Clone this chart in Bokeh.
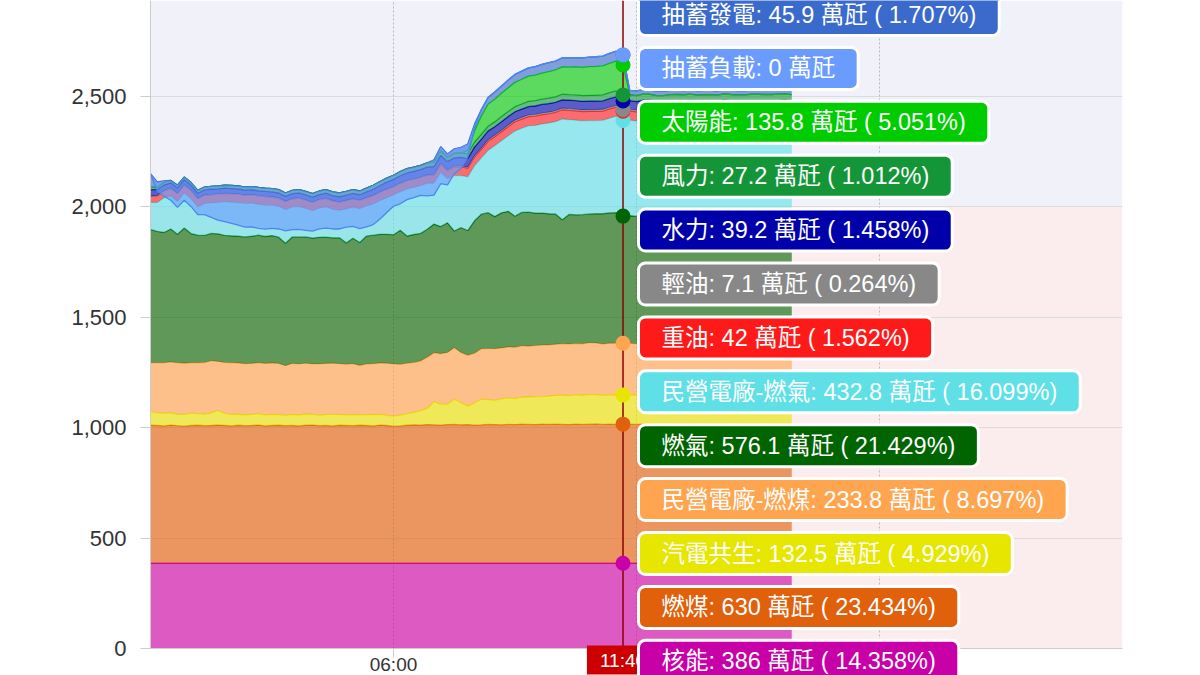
from bokeh.plotting import figure
from bokeh.models import Range1d, FixedTicker, NumeralTickFormatter, BoxAnnotation, Label, Span
from bokeh.embed import file_html
from bokeh.resources import INLINE

# ---------------- data (萬瓩), 10-minute steps from 00:00 ----------------
times = [f"{h:02d}:{m:02d}" for h in range(16) for m in range(0, 60, 10)]
CROSS = 70  # 11:40

nuclear = [386, 386, 386, 386, 386, 386, 386, 386, 386, 386, 386, 386,
           386, 386, 386, 386, 386, 386, 386, 386, 386, 386, 386, 386,
           386, 386, 386, 386, 386, 386, 386, 386, 386, 386, 386, 386,
           386, 386, 386, 386, 386, 386, 386, 386, 386, 386, 386, 386,
           386, 386, 386, 386, 386, 386, 386, 386, 386, 386, 386, 386,
           386, 386, 386, 386, 386, 386, 386, 386, 386, 386, 386, 386,
           386, 386, 386, 386, 386, 386, 386, 386, 386, 386, 386, 386,
           386, 386, 386, 386, 386, 386, 386, 386, 386, 386, 386, 386]
coal = [625, 624, 622, 626, 623, 621, 624, 625, 623, 624,
        626, 624, 622, 625, 623, 624, 626, 622, 624, 625,
        623, 624, 622, 625, 626, 623, 624, 622, 625, 624,
        623, 625, 624, 622, 626, 624, 621, 622, 625, 627,
        626, 628, 627, 626, 628, 629, 627, 628, 626, 627,
        629, 628, 627, 629, 628, 630, 629, 628, 630, 629,
        630, 629, 628, 630, 629, 630, 631, 629, 630, 629,
        630,
        630, 629, 630, 631, 630, 629, 630, 630, 631, 630, 629, 630, 630,
        631, 630, 629, 630, 630, 631, 630, 629, 630, 630, 631, 630]
cogen = [62, 58, 57, 55, 52, 53, 56, 53, 52, 57,
         66, 55, 52, 50, 48, 50, 52, 49, 50, 48,
         47, 50, 49, 51, 48, 47, 50, 52, 49, 48,
         50, 47, 49, 51, 48, 46, 45, 48, 53, 56,
         65, 73, 105, 95, 92, 115, 100, 84, 100, 116,
         112, 110, 118, 120, 118, 122, 124, 126, 125, 128,
         130, 132, 131, 133, 132, 134, 133, 131, 133, 132,
         132.5,
         133, 132, 134, 133, 132, 131, 133, 134, 132, 133, 132, 131, 133,
         132, 134, 133, 132, 131, 133, 132, 134, 133, 132, 133, 132]
ipp_coal = [221, 226, 229, 231, 233, 232, 228, 230, 234, 236,
            222, 230, 234, 232, 233, 231, 230, 234, 233, 232,
            225, 231, 232, 230, 229, 233, 231, 232, 230, 229,
            231, 224, 229, 231, 233, 236, 237, 231, 228, 226,
            225, 232, 221, 228, 235, 232, 228, 230, 225, 228,
            232, 234, 230, 231, 232, 233, 230, 232, 233, 231,
            232, 233, 234, 232, 233, 235, 234, 233, 234, 235,
            233.8,
            234, 233, 235, 234, 233, 234, 235, 234, 233, 234, 235, 234, 233,
            234, 235, 234, 233, 234, 235, 234, 233, 234, 235, 234, 233]
gas = [604, 595, 590, 602, 582, 612, 585, 578, 576, 577,
       578, 576, 575, 574, 574, 576, 578, 575, 577, 572,
       554, 573, 575, 572, 570, 573, 572, 568, 570, 550,
       568, 557, 580, 582, 583, 584, 585, 607, 576, 580,
       578, 580, 583, 576, 587, 529, 565, 565, 600, 610,
       615, 598, 612, 614, 594, 604, 607, 600, 598, 595,
       590, 562, 587, 583, 585, 583, 585, 590, 590, 592,
       576.1,
       577, 578, 576, 579, 577, 575, 578, 577, 576, 578, 577, 579, 576,
       577, 578, 576, 577, 578, 576, 577, 579, 577, 576, 578, 577]
ipp_gas = [122, 131, 157, 149, 149, 159, 158, 128, 144, 138,
           142, 152, 152, 152, 151, 150, 139, 142, 137, 139,
           152, 135, 137, 129, 124, 132, 137, 129, 124, 154,
           140, 153, 136, 141, 152, 166, 180, 175, 213, 213,
           216, 208, 185, 246, 199, 251, 236, 243, 249, 254,
           282, 321, 327, 342, 386, 381, 391, 397, 404, 411,
           418, 456, 429, 429, 425, 423, 422, 423, 429, 436,
           432.8,
           433, 431, 434, 432, 430, 433, 431, 432, 434, 433, 431, 432, 433,
           430, 432, 434, 433, 431, 432, 433, 431, 432, 434, 433, 432]
heavy_oil = [28, 30, 32, 35, 36, 36, 37, 38, 38, 38,
             38, 38, 39, 39, 38, 38, 39, 39, 38, 38,
             38, 38, 39, 38, 38, 39, 39, 38, 38, 38,
             38, 38, 38, 39, 39, 38, 38, 38, 38, 38,
             38, 38, 38, 38, 38, 39, 40, 40, 40, 40,
             41, 41, 41, 42, 42, 42, 42, 42, 42, 42,
             42, 42, 42, 42, 42, 42, 42, 42, 42, 42,
             42,
             42, 42, 41, 42, 42, 43, 42, 42, 41, 42, 42, 42, 43,
             42, 42, 41, 42, 42, 42, 43, 42, 42, 41, 42, 42]
light_oil = [0, 0, 0, 0, 0, 0, 0, 0, 0, 0,
             0, 0, 0, 0, 0, 0, 0, 0, 0, 0,
             0, 0, 0, 0, 0, 0, 0, 0, 0, 0,
             0, 0, 0, 0, 0, 0, 0, 0, 0, 0,
             0, 0, 2, 2, 3, 3, 4, 4, 5, 5,
             6, 6, 6, 7, 7, 7, 7, 7, 7, 7,
             7.1, 7.1, 7.1, 7.1, 7.1, 7.1, 7.1, 7.1, 7.1, 7.1,
             7.1,
             7.1, 7.1, 7, 7.1, 7.1, 7, 7.1, 7.1, 7, 7.1, 7.1, 7, 7.1,
             7.1, 7, 7.1, 7.1, 7, 7.1, 7.1, 7, 7.1, 7.1, 7, 7.1]
hydro = [30, 28, 26, 25, 25, 24, 24, 24, 24, 24,
         24, 24, 23, 23, 23, 23, 23, 23, 23, 23,
         23, 23, 23, 23, 23, 23, 23, 24, 24, 24,
         25, 25, 26, 28, 30, 32, 33, 34, 35, 35,
         35, 35, 36, 36, 37, 38, 38, 39, 40, 40,
         40, 39, 39, 38, 38, 38, 38, 39, 39, 39,
         38, 38, 39, 39, 39, 39, 39, 39, 39, 39,
         39.2,
         39, 39, 40, 39, 39, 38, 39, 39, 40, 39, 39, 39, 38,
         39, 39, 40, 39, 39, 39, 38, 39, 39, 40, 39, 39]
wind = [10, 10, 11, 11, 12, 12, 12, 13, 13, 13,
        13, 13, 14, 14, 14, 14, 15, 15, 15, 15,
        15, 15, 15, 16, 16, 16, 16, 17, 17, 17,
        17, 17, 17, 18, 18, 18, 18, 19, 19, 19,
        19, 20, 20, 20, 20, 21, 21, 21, 22, 22,
        22, 22, 23, 23, 23, 23, 24, 24, 24, 25,
        25, 25, 25, 26, 26, 26, 26, 27, 27, 27,
        27.2,
        27, 27, 28, 27, 28, 28, 27, 28, 28, 29, 28, 28, 29,
        28, 29, 29, 28, 29, 29, 30, 29, 29, 30, 29, 30]
solar = [0, 0, 0, 0, 0, 0, 0, 0, 0, 0,
         0, 0, 0, 0, 0, 0, 0, 0, 0, 0,
         0, 0, 0, 0, 0, 0, 0, 0, 0, 0,
         0, 0, 0, 0, 0, 0, 0, 0, 0, 0,
         0, 0, 0, 0, 0, 0, 0, 15, 50, 82,
         100, 103, 106, 108, 110, 112, 114, 116, 118, 120,
         122, 124, 125, 127, 128, 130, 131, 132, 133, 135,
         135.8,
         0, 0, 0, 0, 0, 0, 0, 0, 0, 0, 0, 0, 0,
         0, 0, 0, 0, 0, 0, 0, 0, 0, 0, 0, 0]
pumped_gen = [62, 25, 8, 0, 0, 0, 0, 0, 0, 0,
              0, 0, 0, 0, 0, 0, 0, 0, 0, 0,
              0, 0, 0, 0, 0, 0, 0, 0, 0, 0,
              0, 0, 0, 0, 0, 0, 0, 0, 0, 0,
              0, 0, 10, 20, 15, 20, 25, 30, 32, 30,
              30, 32, 33, 35, 36, 37, 38, 38, 39, 40,
              40, 41, 42, 42, 43, 43, 44, 44, 45, 45,
              45.9,
              20, 21, 20, 19, 20, 21, 20, 20, 19, 20, 21, 20, 20,
              19, 20, 21, 20, 20, 19, 20, 21, 20, 20, 19, 20]
pump_load = [0, -40, -70, -90, -100, -105, -108, -110, -125, -140,
             -155, -165, -172, -178, -182, -183, -185, -186, -180, -178,
             -172, -178, -180, -176, -170, -172, -174, -168, -163, -162,
             -166, -170, -175, -178, -170, -155, -140, -146, -140, -138,
             -136, -150, -160, -168, -140, -113, -95, -60, -20, 0,
             0, 0, 0, 0, 0, 0, 0, 0, 0, 0,
             0, 0, 0, 0, 0, 0, 0, 0, 0, 0,
             0,
             0, 0, 0, 0, 0, 0, 0, 0, 0, 0, 0, 0, 0,
             0, 0, 0, 0, 0, 0, 0, 0, 0, 0, 0, 0]

# stacking order, bottom -> top
stack_names = ["核能", "燃煤", "汽電共生", "民營電廠-燃煤", "燃氣", "民營電廠-燃氣",
               "重油", "輕油", "水力", "風力", "太陽能", "抽蓄發電"]
stack_values = [nuclear, coal, cogen, ipp_coal, gas, ipp_gas,
                heavy_oil, light_oil, hydro, wind, solar, pumped_gen]
colors = {"核能": "#c800a8", "燃煤": "#e0600c", "汽電共生": "#e6e600",
          "民營電廠-燃煤": "#ffa54f", "燃氣": "#006400", "民營電廠-燃氣": "#5ee0e6",
          "重油": "#ff1a1a", "輕油": "#888888", "水力": "#0000aa", "風力": "#149638",
          "太陽能": "#00cc00", "抽蓄發電": "#3a6acb", "抽蓄負載": "#6a9cff"}
tip_order = ["抽蓄發電", "抽蓄負載", "太陽能", "風力", "水力", "輕油", "重油",
             "民營電廠-燃氣", "燃氣", "民營電廠-燃煤", "汽電共生", "燃煤", "核能"]
y_ticks = [0, 500, 1000, 1500, 2000, 2500]
x_ticks = ["06:00", "12:00", "18:00"]
band_split = 2000

# ---------------- layout helpers (pixels of the 1200x675 picture) ----------------
PX_PER_H = 40.5
FRAME_LEFT, AXIS_Y, FRAME_TOP, FRAME_BOTTOM = 150, 648, 0, 675
PX_PER_UNIT = 552 / 2500
TEXT_FONT = "Liberation Sans, 'Noto Sans CJK TC', sans-serif"


def hx(px):
    return (px - FRAME_LEFT) / PX_PER_H


def vy(py):
    return (AXIS_Y - py) / PX_PER_UNIT


def to_h(t):
    return int(t[:2]) + int(t[3:]) / 60


hours = [to_h(t) for t in times]
Y_TOP = vy(FRAME_TOP)
Y_BOTTOM = vy(FRAME_BOTTOM)

p = figure(frame_width=972, frame_height=675,
           x_range=Range1d(0, 24), y_range=Range1d(Y_BOTTOM, Y_TOP),
           output_backend="svg", toolbar_location=None,
           min_border_left=150, min_border_right=78,
           min_border_top=0, min_border_bottom=0,
           outline_line_color=None, background_fill_color="white")

p.add_layout(BoxAnnotation(bottom=band_split, fill_color="#f1f1fa", fill_alpha=1,
                           line_color=None, level="image"))
p.add_layout(BoxAnnotation(bottom=0, top=band_split, fill_color="#fbeded", fill_alpha=1,
                           line_color=None, level="image"))

# axes & grids
p.yaxis.ticker = FixedTicker(ticks=y_ticks)
p.yaxis.bounds = (0, Y_TOP)
p.yaxis.formatter = NumeralTickFormatter(format="0,0")
p.yaxis.major_label_text_font = "Liberation Sans"
p.yaxis.major_label_text_font_size = "22px"
p.yaxis.major_label_text_color = "#333333"
p.yaxis.axis_line_color = "#cccccc"
p.yaxis.major_tick_line_color = "#cccccc"
p.yaxis.major_tick_out = 10
p.yaxis.major_tick_in = 0
p.yaxis.minor_tick_line_color = None
p.yaxis.major_label_standoff = 14
p.xaxis.visible = False

p.ygrid.ticker = FixedTicker(ticks=y_ticks)
p.ygrid.grid_line_color = "#dcdcdc"
p.xgrid.visible = False

xt = [to_h(t) for t in x_ticks]
# dotted vertical grid lines and axis tick marks
p.segment(x0=xt, y0=[0] * len(xt), x1=xt, y1=[Y_TOP] * len(xt),
          line_color="#bbbbbb", line_width=1, line_dash="2 2")
p.segment(x0=xt, y0=[0] * len(xt), x1=xt, y1=[vy(657)] * len(xt),
          line_color="#cccccc", line_width=1)

# stacked areas
lower = [0.0] * len(hours)
tops = {}
for name, vals in zip(stack_names, stack_values):
    upper = [a + b for a, b in zip(lower, vals)]
    p.varea(x=hours, y1=lower, y2=upper, fill_color=colors[name], fill_alpha=0.62)
    p.line(hours, upper, line_color=colors[name], line_width=1.3)
    tops[name] = upper
    lower = upper
total = lower
load_edge = [a + b for a, b in zip(total, pump_load)]
p.varea(x=hours, y1=load_edge, y2=total, fill_color=colors["抽蓄負載"], fill_alpha=0.62)
p.line(hours, load_edge, line_color="#4a88ee", line_width=1.3)
tops["抽蓄負載"] = load_edge

# x axis line
p.add_layout(Span(location=0, dimension="width", line_color="#cccccc", line_width=1))

# crosshair
xc = hours[CROSS]
p.segment(x0=[xc], y0=[0], x1=[xc], y1=[Y_TOP], line_color="#8b0000", line_width=1.5)
for name in stack_names + ["抽蓄負載"]:
    p.scatter([xc], [tops[name][CROSS]], size=15, color=colors[name], line_color=None)

# x tick labels
for t in x_ticks:
    p.add_layout(Label(x=to_h(t), y=vy(674), text=t, text_align="center",
                       text_baseline="bottom", text_font="Liberation Sans",
                       text_font_size="19px", text_color="#333333"))

# crosshair time label
p.add_layout(Label(x=xc, y=vy(674), text=times[CROSS], text_align="center",
                   text_baseline="bottom", text_font="Liberation Sans",
                   text_font_size="19px", text_color="white",
                   background_fill_color="#cc0000", background_fill_alpha=1,
                   padding=(13, 4)))

# tooltips
tot = sum(v[CROSS] for v in stack_values)
all_vals = dict(zip(stack_names, stack_values))
all_vals["抽蓄負載"] = pump_load
for k, name in enumerate(tip_order):
    v = all_vals[name][CROSS]
    txt = f"{name}: {abs(v):g} 萬瓩"
    if v:
        txt += f" ( {v / tot * 100:.3f}%)"
    p.add_layout(Label(x=hx(638), y=vy(14 + 53.9 * k), text=txt,
                       text_align="left", text_baseline="middle",
                       text_font=TEXT_FONT, text_font_size="23.5px",
                       text_color="white",
                       background_fill_color=colors[name], background_fill_alpha=1,
                       border_line_color="white", border_line_width=3,
                       border_radius=7, padding=(23, 8)))

open("out.html", "w").write(file_html(p, INLINE))
